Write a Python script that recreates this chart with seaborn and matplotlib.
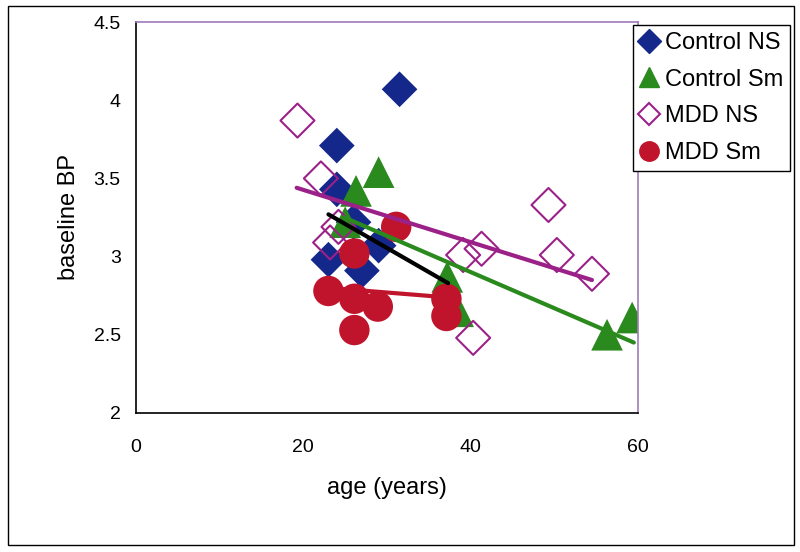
import matplotlib
matplotlib.use("Agg")
import matplotlib.pyplot as plt
from matplotlib.lines import Line2D
from matplotlib.patches import Rectangle
import seaborn as sns
import pandas as pd

# --- data ---
ctrl_ns_age = [23, 24, 24, 26, 27, 29, 31.5]
ctrl_ns_bp = [2.98, 3.43, 3.71, 3.22, 2.91, 3.07, 4.07]

ctrl_sm_age = [25, 26.3, 29, 37.2, 38.5, 56.3, 59.3]
ctrl_sm_bp = [3.22, 3.42, 3.54, 2.87, 2.65, 2.50, 2.61]

mdd_ns_age = [19.3, 22.1, 23.2, 24.2, 39.1, 40.3, 41.3, 49.3, 50.3, 54.5]
mdd_ns_bp = [3.87, 3.50, 3.09, 3.19, 3.01, 2.48, 3.05, 3.33, 3.01, 2.89]

mdd_sm_age = [23, 26.1, 26.1, 26.1, 28.9, 31.1, 37.1, 37.1]
mdd_sm_bp = [2.78, 3.02, 2.73, 2.53, 2.68, 3.19, 2.73, 2.62]

# trendline end points (as drawn in the reference)
ctrl_ns_fit_age = [23, 37.3]
ctrl_ns_fit_bp = [3.27, 2.83]
ctrl_sm_fit_age = [24.9, 59.5]
ctrl_sm_fit_bp = [3.25, 2.45]
mdd_ns_fit_age = [19.2, 54.5]
mdd_ns_fit_bp = [3.44, 2.85]
mdd_sm_fit_age = [23, 37]
mdd_sm_fit_bp = [2.80, 2.74]

blue = "#14288c"
green = "#2b8a1e"
purple = "#9b2188"
red = "#c0142c"

sns.set_style("white")
plt.rcParams['font.family'] = ['Liberation Sans', 'DejaVu Sans']
plt.rcParams['text.color'] = 'black'
plt.rcParams['axes.labelcolor'] = 'black'
plt.rcParams['xtick.color'] = 'black'
plt.rcParams['ytick.color'] = 'black'

fig = plt.figure(figsize=(8, 5.52), dpi=100)
ax = fig.add_axes([0.17, 0.252, 0.6275, 0.708])

def frame(age, bp):
    return pd.DataFrame({"age": age, "bp": bp})

sns.scatterplot(data=frame(ctrl_ns_age, ctrl_ns_bp), x="age", y="bp", ax=ax,
                marker="D", s=330, color=blue, edgecolor="none", zorder=2)
sns.scatterplot(data=frame(ctrl_sm_age, ctrl_sm_bp), x="age", y="bp", ax=ax,
                marker="^", s=520, color=green, edgecolor="none", zorder=2)
sns.scatterplot(data=frame(mdd_ns_age, mdd_ns_bp), x="age", y="bp", ax=ax,
                marker="D", s=300, facecolor="none", edgecolor=purple, linewidth=1.5, zorder=2)
sns.scatterplot(data=frame(mdd_sm_age, mdd_sm_bp), x="age", y="bp", ax=ax,
                marker="o", s=480, color=red, edgecolor="none", zorder=2)

for fa, fb, c in [(ctrl_ns_fit_age, ctrl_ns_fit_bp, "black"),
                  (ctrl_sm_fit_age, ctrl_sm_fit_bp, green),
                  (mdd_ns_fit_age, mdd_ns_fit_bp, purple),
                  (mdd_sm_fit_age, mdd_sm_fit_bp, red)]:
    sns.lineplot(x=fa, y=fb, ax=ax, color=c, linewidth=3, zorder=3)

ax.set_xlim(0, 60)
ax.set_ylim(2, 4.5)
ax.set_xticks([0, 20, 40, 60])
ax.set_yticks([2, 2.5, 3, 3.5, 4, 4.5])
ax.set_yticklabels(["2", "2.5", "3", "3.5", "4", "4.5"])
ax.tick_params(axis="both", direction="out", length=7, width=1, labelsize=14,
               color="black", labelcolor="black")
ax.tick_params(axis="x", pad=12)
ax.tick_params(axis="y", pad=4)
ax.set_xlabel("age (years)", fontsize=17, labelpad=15, color="black")
ax.set_ylabel("baseline BP", fontsize=17, labelpad=10, color="black")

for side in ["left", "bottom"]:
    ax.spines[side].set_color("black")
    ax.spines[side].set_linewidth(1.2)
for side in ["top", "right"]:
    ax.spines[side].set_color("#a07cb8")
    ax.spines[side].set_linewidth(1.2)

handles = [
    Line2D([], [], linestyle="none", marker="D", markersize=12, color=blue, markeredgecolor=blue),
    Line2D([], [], linestyle="none", marker="^", markersize=14, color=green, markeredgecolor=green),
    Line2D([], [], linestyle="none", marker="D", markersize=11, markerfacecolor="none",
           markeredgecolor=purple, markeredgewidth=1.5),
    Line2D([], [], linestyle="none", marker="o", markersize=14, color=red, markeredgecolor=red),
]
labels = ["Control NS", "Control Sm", "MDD NS", "MDD Sm"]
leg = fig.legend(handles, labels, loc="upper left", bbox_to_anchor=(0.791, 0.955),
                 fontsize=17, frameon=True, fancybox=False, framealpha=1,
                 handlelength=0.8, handletextpad=0.25, labelspacing=0.62,
                 borderpad=0.3, borderaxespad=0)
leg.get_frame().set_edgecolor("black")
leg.get_frame().set_linewidth(1)
for t in leg.get_texts():
    t.set_color("black")

fig.patches.append(Rectangle((0.01, 0.012), 0.982, 0.978, transform=fig.transFigure,
                             fill=False, edgecolor="black", linewidth=1))

fig.savefig("out.png", dpi=100)
